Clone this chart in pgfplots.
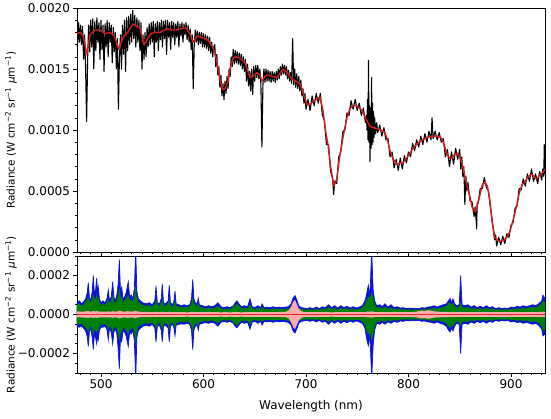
\documentclass[border=0pt]{standalone}
\usepackage{fontspec}
\setmainfont{DejaVu Sans}
\usepackage{pgfplots}
\pgfplotsset{compat=1.18}
\usepackage{pgfplotstable}
\definecolor{specred}{RGB}{214,30,30}
\definecolor{bandblue}{RGB}{10,20,215}
\definecolor{bandgreen}{RGB}{0,128,0}
\definecolor{bandpink}{RGB}{250,170,170}
\definecolor{zeroline}{RGB}{230,40,40}

% radiance, units of 1e-4 W cm^-2 sr^-1 um^-1
\pgfplotstableread{
x y
477 16.8
478 18.8
479 17.2
480 18.6
481 17.0
482 18.5
483 15.8
484 17.8
485 15.0
486 10.7
487 16.0
488 18.6
489 16.4
490 19.0
491 16.8
492 19.1
493 15.0
494 18.9
495 16.5
496 19.2
497 17.2
498 18.8
499 15.8
500 19.0
501 16.6
502 18.6
503 14.8
504 18.7
505 16.8
506 19.0
507 16.0
508 18.8
509 17.2
510 18.6
511 15.5
512 18.4
513 16.4
514 18.0
515 15.0
516 17.5
517 11.7
518 16.0
519 17.8
520 15.0
521 18.6
522 16.2
523 19.0
524 14.8
525 19.2
526 16.5
527 19.3
528 17.0
529 19.5
530 17.2
531 19.8
532 17.5
533 19.4
534 16.8
535 19.2
536 17.2
537 19.0
538 16.5
539 18.8
540 15.0
541 17.8
542 15.8
543 18.0
544 16.0
545 18.4
546 16.8
547 18.7
548 17.0
549 18.8
550 17.2
551 18.9
552 16.0
553 18.7
554 17.2
555 18.9
556 16.5
557 18.8
558 17.4
559 19.0
560 16.8
561 18.9
562 17.5
563 19.0
564 16.2
565 19.0
566 17.6
567 18.8
568 16.6
569 18.9
570 17.6
571 18.8
572 17.0
573 18.7
574 17.6
575 18.9
576 16.8
577 18.7
578 17.7
579 18.8
580 17.2
581 18.7
582 17.8
583 18.8
584 17.4
585 18.6
586 17.2
587 18.3
588 16.6
589 17.8
590 13.4
591 17.0
592 18.2
593 17.2
594 18.1
595 17.0
596 18.0
597 17.1
598 18.0
599 16.8
600 17.9
601 16.8
602 17.8
603 16.7
604 17.7
605 16.5
606 17.6
607 16.3
608 17.2
609 16.0
610 16.8
611 17.0
612 15.2
613 16.2
614 14.5
615 15.2
616 13.5
617 14.5
618 12.8
619 13.8
620 12.5
621 14.0
622 13.0
623 14.4
624 13.4
625 15.0
626 14.4
627 16.0
628 15.2
629 16.6
630 15.4
631 16.5
632 15.5
633 16.4
634 15.4
635 16.3
636 15.3
637 16.2
638 15.0
639 16.0
640 14.8
641 15.8
642 14.0
643 15.4
644 13.6
645 14.8
646 13.2
647 15.0
648 12.9
649 15.2
650 14.0
651 15.3
652 14.3
653 15.3
654 14.2
655 15.0
656 13.8
657 8.6
658 13.7
659 15.0
660 13.9
661 15.0
662 14.0
663 14.9
664 14.0
665 14.8
666 13.9
667 14.8
668 14.0
669 14.7
670 13.9
671 14.8
672 14.1
673 15.0
674 14.2
675 15.2
676 14.5
677 15.4
678 14.6
679 15.3
680 14.5
681 15.2
682 14.2
683 14.9
684 14.0
685 14.7
686 13.8
687 17.5
688 13.7
689 15.0
690 13.5
691 14.6
692 13.4
693 14.4
694 13.2
695 14.1
696 12.8
697 13.4
698 12.2
699 13.0
700 11.7
702 12.5
704 11.6
706 12.8
708 12.0
710 13.0
712 12.2
714 13.0
716 11.2
718 10.8
720 8.8
722 8.8
724 6.6
726 6.0
727 4.7
728 5.8
730 5.6
732 7.8
734 8.2
736 9.9
738 10.0
740 11.4
742 11.2
744 12.4
746 11.7
748 12.5
750 11.6
752 12.2
754 11.2
756 11.8
758 10.6
759 11.2
759.5 10.0
760 12.5
760.5 9.2
761 15.7
761.5 9.0
762 12.0
762.4 7.4
763 11.8
763.5 8.5
764 14.3
764.5 8.8
765 12.2
765.5 9.0
766 11.5
766.5 9.4
767 11.0
768 9.7
769 10.6
770 9.8
772 10.4
774 9.5
776 10.2
778 9.2
780 9.3
782 7.8
784 8.2
786 6.9
788 7.6
790 6.7
792 7.7
794 6.8
796 7.9
798 7.3
800 8.2
802 7.8
804 8.9
806 8.3
808 9.2
810 8.6
812 9.5
814 8.8
816 9.7
818 9.0
820 9.9
822 9.2
823 11.0
824 9.3
826 9.9
828 9.2
830 9.8
832 9.0
834 9.3
836 7.8
838 8.4
840 7.0
842 8.2
844 7.2
846 8.5
848 7.6
850 8.4
851 6.8
852 7.8
853 6.2
854 7.0
855 3.9
856 6.2
857 5.0
858 5.7
860 4.2
862 4.1
864 2.9
865 3.7
866 2.6
866.5 1.9
867 4.0
868 4.0
870 5.2
872 5.2
874 6.1
876 5.3
878 5.0
880 3.6
882 2.4
884 1.0
885 1.4
886 0.5
888 1.2
890 0.6
892 1.3
894 0.7
896 1.5
898 1.2
900 2.2
902 2.4
904 3.6
906 3.8
908 5.2
910 5.1
912 6.0
914 5.4
916 6.4
918 5.8
920 6.8
922 5.8
924 6.4
926 5.6
928 6.6
930 5.9
931 6.8
932 6.2
932.5 8.8
933 6.4
}\obsdata

\pgfplotstableread{
x y
476.6 17.9
480 18.0
483 17.6
486.3 16.2
489.3 17.8
494 18.2
499 18.2
504 17.9
508.8 18.0
513 17.7
517.6 16.6
521.5 17.6
526 18.0
531.2 18.7
535 18.5
538 18.4
542 17.0
547.8 17.8
552 18.0
557.6 18.0
564.4 18.3
569 18.2
574.1 18.2
578 18.3
582 18.4
586.8 17.9
589.8 17.2
593.7 17.7
598 17.6
603.4 17.4
606 17.2
609.3 16.8
612 16.0
614.1 15.1
617 13.8
619 13.3
621 13.4
623.9 14.0
626 15.0
628.8 15.9
632 16.0
635.6 15.9
640.5 15.5
643 14.9
645.4 14.3
648 14.4
652.2 14.7
655 14.5
657.1 14.0
660 14.4
662 14.5
667 14.4
671.7 14.3
675 14.7
677.6 15.0
681 14.8
684 14.4
686.3 14.2
690 14.0
694.1 13.8
698 12.8
701 12.1
703.9 12.1
708 12.4
713.7 12.7
716.6 11.6
719 10.0
721.5 8.8
724 7.0
727.3 5.4
730 6.0
733.2 8.0
737 9.8
740 11.0
743 11.8
745.9 12.0
749 12.0
752 11.8
754.6 11.6
758 11.0
762.4 10.3
766 10.2
769.3 10.1
773 10.0
777.1 9.8
780 9.0
782 8.3
785 7.6
788.8 7.2
792 7.3
794.6 7.3
799 7.8
804.4 8.5
809 8.9
814.1 9.2
818 9.4
823.9 9.5
828 9.5
832.7 9.3
835 8.7
837.6 8.0
840 7.7
842.4 7.7
845 8.0
848.3 8.1
851 7.6
853.2 6.9
856 5.8
860 4.5
862 3.7
864.9 3.3
867 3.8
869.8 4.7
872 5.5
874.6 5.7
877 5.4
879.5 4.2
882 2.2
884.4 1.2
888 0.9
892.2 0.9
896 1.2
899 1.7
902 2.6
905.9 3.9
908 4.8
910.7 5.5
914 5.8
917 6.2
920.5 6.4
923 6.1
925.4 6.0
928 6.3
931 6.5
933.2 6.8
}\modeldata

% residual bands, units of 1e-4
\pgfplotstableread{
x bu bl gu gl pu pl
476.6 0.6 -0.6 0.47 -0.47 0.15 -0.15
479 0.7 -0.65 0.55 -0.5 0.16 -0.15
481 0.55 -0.6 0.43 -0.47 0.14 -0.14
483 0.65 -0.7 0.5 -0.55 0.15 -0.16
485 0.8 -0.85 0.62 -0.66 0.16 -0.16
486.5 1.1 -1.1 0.75 -0.75 0.17 -0.17
487.6 1.63 -1.63 0.9 -0.9 0.18 -0.18
488.7 0.9 -0.9 0.7 -0.7 0.16 -0.16
490 0.7 -0.7 0.55 -0.55 0.15 -0.15
491.5 1.2 -1.2 0.8 -0.8 0.16 -0.16
492.5 2.0 -1.8 1.0 -1.0 0.18 -0.18
493.6 1.0 -1.0 0.72 -0.72 0.16 -0.16
494.8 1.3 -1.2 0.8 -0.8 0.16 -0.16
495.8 1.86 -1.5 1.0 -0.9 0.18 -0.18
496.7 1.1 -1.1 0.75 -0.75 0.16 -0.16
497.4 1.4 -1.3 0.85 -0.8 0.16 -0.16
498.5 0.8 -0.8 0.62 -0.62 0.15 -0.15
500 0.6 -0.65 0.47 -0.5 0.15 -0.15
502 0.7 -0.65 0.55 -0.5 0.15 -0.15
504 0.6 -0.6 0.47 -0.47 0.14 -0.14
506 0.85 -0.8 0.65 -0.62 0.15 -0.15
507.1 1.26 -1.3 0.8 -0.8 0.16 -0.16
508.3 0.7 -0.7 0.55 -0.55 0.15 -0.15
510 0.9 -0.9 0.68 -0.68 0.15 -0.15
511.4 1.68 -1.5 0.95 -0.9 0.17 -0.17
512.6 0.9 -0.9 0.68 -0.68 0.15 -0.15
514 0.7 -0.75 0.55 -0.58 0.15 -0.15
515.5 1.0 -1.0 0.72 -0.72 0.16 -0.16
516.8 1.6 -1.8 0.95 -1.0 0.17 -0.17
517.9 2.83 -2.8 1.3 -1.3 0.2 -0.2
519 1.2 -1.2 0.85 -0.85 0.17 -0.17
520.2 1.4 -1.4 0.9 -0.9 0.17 -0.17
521.5 0.8 -0.85 0.62 -0.65 0.15 -0.15
523 0.9 -0.9 0.7 -0.7 0.15 -0.15
524.5 1.1 -1.1 0.8 -0.8 0.16 -0.16
526.6 1.68 -1.63 1.0 -1.0 0.17 -0.17
528 0.9 -0.9 0.7 -0.7 0.15 -0.15
529.5 1.0 -1.0 0.75 -0.75 0.16 -0.16
531 0.8 -0.8 0.62 -0.62 0.15 -0.15
532.5 1.3 -1.3 0.9 -0.9 0.17 -0.17
533.9 3.3 -3.3 1.4 -1.4 0.2 -0.2
535 1.2 -1.2 0.85 -0.85 0.16 -0.16
536.5 0.8 -0.8 0.62 -0.62 0.15 -0.15
538.5 0.7 -0.7 0.55 -0.55 0.14 -0.14
541 0.6 -0.6 0.47 -0.47 0.14 -0.14
544 0.55 -0.55 0.43 -0.43 0.13 -0.13
547 0.6 -0.6 0.47 -0.47 0.13 -0.13
550 0.5 -0.5 0.39 -0.39 0.12 -0.12
552.5 0.7 -0.7 0.52 -0.52 0.13 -0.13
553.7 1.46 -1.4 0.75 -0.75 0.14 -0.14
555 0.6 -0.6 0.47 -0.47 0.13 -0.13
557 0.55 -0.55 0.43 -0.43 0.12 -0.12
558.8 0.8 -0.8 0.6 -0.6 0.13 -0.13
559.8 1.57 -1.4 0.75 -0.75 0.14 -0.14
561 0.6 -0.6 0.47 -0.47 0.13 -0.13
563 0.55 -0.55 0.43 -0.43 0.12 -0.12
565.5 0.7 -0.7 0.52 -0.52 0.13 -0.13
566.6 1.5 -1.4 0.75 -0.75 0.14 -0.14
567.8 0.6 -0.6 0.47 -0.47 0.13 -0.13
570 0.5 -0.5 0.39 -0.39 0.12 -0.12
571.2 0.7 -0.7 0.52 -0.52 0.13 -0.13
572.2 1.2 -1.1 0.68 -0.68 0.13 -0.13
573.3 0.55 -0.55 0.43 -0.43 0.12 -0.12
576 0.5 -0.5 0.39 -0.39 0.12 -0.12
578.5 0.45 -0.48 0.35 -0.37 0.12 -0.12
581 0.5 -0.5 0.39 -0.39 0.12 -0.12
584 0.45 -0.45 0.35 -0.35 0.11 -0.11
586.5 0.5 -0.5 0.39 -0.39 0.12 -0.12
588.3 0.8 -0.8 0.58 -0.58 0.13 -0.13
589.5 1.8 -1.8 0.85 -0.85 0.14 -0.14
590.7 0.8 -0.8 0.58 -0.58 0.13 -0.13
592.5 0.55 -0.55 0.43 -0.43 0.12 -0.12
594 0.6 -0.6 0.45 -0.45 0.12 -0.12
594.9 0.83 -0.8 0.58 -0.58 0.13 -0.13
596 0.5 -0.5 0.39 -0.39 0.12 -0.12
599 0.45 -0.45 0.35 -0.35 0.12 -0.12
602 0.4 -0.42 0.3 -0.32 0.12 -0.12
605 0.45 -0.45 0.34 -0.34 0.12 -0.12
608 0.4 -0.4 0.3 -0.3 0.12 -0.12
611 0.45 -0.45 0.34 -0.34 0.12 -0.12
614.1 0.6 -0.6 0.44 -0.44 0.12 -0.12
617 0.4 -0.4 0.3 -0.3 0.11 -0.11
620 0.35 -0.35 0.27 -0.27 0.12 -0.12
623 0.4 -0.4 0.3 -0.3 0.12 -0.12
626 0.35 -0.35 0.27 -0.27 0.11 -0.11
629 0.45 -0.45 0.38 -0.38 0.12 -0.12
631 0.6 -0.6 0.48 -0.48 0.13 -0.13
632.7 0.7 -0.68 0.55 -0.55 0.13 -0.13
634.5 0.55 -0.55 0.44 -0.44 0.12 -0.12
637 0.4 -0.4 0.3 -0.3 0.11 -0.11
640 0.45 -0.45 0.33 -0.33 0.12 -0.12
643 0.4 -0.4 0.3 -0.3 0.12 -0.12
645.4 0.8 -0.75 0.5 -0.5 0.13 -0.13
647.5 0.4 -0.4 0.3 -0.3 0.12 -0.12
650 0.35 -0.35 0.27 -0.27 0.12 -0.12
653 0.45 -0.45 0.33 -0.33 0.12 -0.12
656 0.35 -0.35 0.27 -0.27 0.12 -0.12
657.2 0.55 -0.55 0.38 -0.38 0.12 -0.12
659 0.35 -0.35 0.27 -0.27 0.12 -0.12
662 0.38 -0.38 0.28 -0.28 0.12 -0.12
665 0.35 -0.35 0.27 -0.27 0.12 -0.12
668 0.4 -0.4 0.3 -0.3 0.12 -0.12
671 0.35 -0.35 0.27 -0.27 0.12 -0.12
674 0.38 -0.38 0.28 -0.28 0.13 -0.13
677 0.35 -0.35 0.27 -0.27 0.13 -0.13
680 0.38 -0.38 0.28 -0.28 0.14 -0.14
683 0.4 -0.4 0.3 -0.3 0.2 -0.2
685.5 0.55 -0.55 0.35 -0.35 0.4 -0.4
687.5 0.85 -0.85 0.4 -0.4 0.65 -0.65
689.3 0.97 -0.95 0.4 -0.4 0.75 -0.75
691 0.75 -0.75 0.35 -0.35 0.55 -0.55
693 0.45 -0.45 0.3 -0.3 0.3 -0.3
695.5 0.35 -0.35 0.27 -0.27 0.18 -0.18
698 0.33 -0.33 0.25 -0.25 0.13 -0.13
701 0.3 -0.3 0.23 -0.23 0.12 -0.12
704 0.35 -0.35 0.26 -0.26 0.12 -0.12
707 0.3 -0.3 0.23 -0.23 0.12 -0.12
710 0.38 -0.38 0.28 -0.28 0.12 -0.12
713 0.3 -0.3 0.23 -0.23 0.12 -0.12
716 0.4 -0.4 0.3 -0.3 0.12 -0.12
719 0.35 -0.35 0.27 -0.27 0.12 -0.12
722 0.5 -0.5 0.36 -0.36 0.12 -0.12
725 0.35 -0.35 0.27 -0.27 0.11 -0.11
728 0.45 -0.45 0.33 -0.33 0.12 -0.12
731 0.33 -0.33 0.25 -0.25 0.12 -0.12
734 0.45 -0.45 0.33 -0.33 0.12 -0.12
737 0.35 -0.35 0.27 -0.27 0.12 -0.12
740 0.42 -0.42 0.31 -0.31 0.12 -0.12
743 0.33 -0.33 0.25 -0.25 0.12 -0.12
746 0.4 -0.4 0.3 -0.3 0.12 -0.12
749 0.33 -0.33 0.25 -0.25 0.12 -0.12
752 0.38 -0.38 0.28 -0.28 0.12 -0.12
755 0.45 -0.45 0.34 -0.34 0.12 -0.12
757.5 0.7 -0.7 0.52 -0.52 0.13 -0.13
759 1.0 -1.2 0.7 -0.8 0.14 -0.14
760.8 1.5 -1.6 0.9 -1.0 0.15 -0.15
762.4 1.0 -1.1 0.85 -0.95 0.15 -0.15
764.1 3.3 -3.3 1.1 -1.3 0.16 -0.16
765.5 1.3 -1.6 0.85 -0.95 0.15 -0.15
767 0.7 -0.8 0.52 -0.6 0.13 -0.13
769 0.45 -0.45 0.34 -0.34 0.12 -0.12
772 0.5 -0.5 0.36 -0.36 0.12 -0.12
774.5 0.4 -0.4 0.3 -0.3 0.12 -0.12
777 0.55 -0.5 0.38 -0.38 0.12 -0.12
780 0.38 -0.38 0.28 -0.28 0.12 -0.12
783 0.5 -0.45 0.34 -0.34 0.12 -0.12
786 0.35 -0.35 0.27 -0.27 0.12 -0.12
789 0.4 -0.4 0.3 -0.3 0.12 -0.12
792 0.33 -0.33 0.25 -0.25 0.12 -0.12
795 0.35 -0.35 0.26 -0.26 0.12 -0.12
798 0.3 -0.3 0.23 -0.23 0.12 -0.12
801 0.33 -0.33 0.25 -0.25 0.12 -0.12
804 0.3 -0.3 0.23 -0.23 0.13 -0.13
807 0.32 -0.32 0.24 -0.24 0.14 -0.14
810 0.3 -0.3 0.23 -0.23 0.17 -0.17
813 0.35 -0.35 0.26 -0.26 0.2 -0.2
816 0.33 -0.33 0.25 -0.25 0.18 -0.18
819 0.38 -0.38 0.28 -0.28 0.22 -0.22
822 0.4 -0.4 0.3 -0.3 0.2 -0.2
825 0.45 -0.45 0.33 -0.33 0.16 -0.16
828 0.38 -0.38 0.28 -0.28 0.15 -0.15
831 0.45 -0.45 0.34 -0.34 0.14 -0.14
834 0.5 -0.5 0.37 -0.37 0.13 -0.13
837 0.55 -0.6 0.42 -0.45 0.14 -0.14
839 0.7 -0.8 0.55 -0.6 0.14 -0.14
840.5 0.83 -0.9 0.62 -0.68 0.14 -0.14
842 0.6 -0.7 0.47 -0.53 0.13 -0.13
843.4 0.8 -0.85 0.6 -0.63 0.13 -0.13
845 0.55 -0.6 0.42 -0.45 0.13 -0.13
847 0.45 -0.45 0.34 -0.34 0.12 -0.12
849.5 0.5 -0.5 0.37 -0.37 0.12 -0.12
850.9 2.0 -2.0 0.6 -0.6 0.13 -0.13
852.3 0.5 -0.5 0.37 -0.37 0.12 -0.12
855 0.45 -0.45 0.34 -0.34 0.12 -0.12
858 0.5 -0.5 0.37 -0.37 0.12 -0.12
861 0.38 -0.38 0.28 -0.28 0.12 -0.12
864 0.45 -0.45 0.33 -0.33 0.12 -0.12
867 0.35 -0.35 0.27 -0.27 0.12 -0.12
870 0.42 -0.42 0.31 -0.31 0.12 -0.12
873 0.35 -0.35 0.27 -0.27 0.12 -0.12
876 0.45 -0.45 0.33 -0.33 0.12 -0.12
879 0.35 -0.35 0.27 -0.27 0.12 -0.12
882 0.4 -0.4 0.3 -0.3 0.12 -0.12
885 0.3 -0.3 0.23 -0.23 0.12 -0.12
888 0.35 -0.35 0.26 -0.26 0.12 -0.12
891 0.3 -0.3 0.23 -0.23 0.12 -0.12
894 0.33 -0.33 0.25 -0.25 0.12 -0.12
897 0.3 -0.3 0.23 -0.23 0.12 -0.12
900 0.38 -0.38 0.28 -0.28 0.12 -0.12
903 0.35 -0.35 0.27 -0.27 0.12 -0.12
906 0.42 -0.42 0.31 -0.31 0.12 -0.12
909 0.38 -0.38 0.28 -0.28 0.12 -0.12
912 0.45 -0.45 0.34 -0.34 0.12 -0.12
915 0.4 -0.4 0.3 -0.3 0.12 -0.12
918 0.45 -0.45 0.35 -0.35 0.12 -0.12
921 0.5 -0.5 0.38 -0.38 0.13 -0.13
924 0.45 -0.45 0.35 -0.35 0.12 -0.12
927 0.55 -0.55 0.42 -0.42 0.13 -0.13
930 0.7 -0.75 0.55 -0.6 0.13 -0.13
931.2 1.0 -1.1 0.7 -0.8 0.14 -0.14
933.2 0.8 -1.0 0.6 -0.75 0.14 -0.14
}\resid

\pgfplotsset{
  common/.style={
    scale only axis, width=468pt,
    xmin=476.6, xmax=933.2,
    xtick={500,600,700,800,900},
    minor xtick={480,490,...,930},
    tick align=outside, tick pos=left,
    major tick length=3.5pt, minor tick length=2pt,
    tick style={black, line width=0.6pt},
    axis line style={line width=0.7pt},
    tick label style={font=\fontsize{12}{14}\selectfont},
    /pgf/number format/assume math mode=true,
    every axis y label/.style={at={(axis description cs:-0.141,0.5)}, rotate=90, anchor=center,
      font=\fontsize{10.5}{12}\selectfont},
  }
}

\begin{document}
\begin{tikzpicture}
\path[use as bounding box] (-77pt,-410pt) rectangle (474pt,8pt);
\begin{axis}[common, at={(0pt,0pt)}, anchor=north west, height=244pt,
  ymin=0, ymax=20, ytick={0,5,10,15,20},
  yticklabels={0.0000,0.0005,0.0010,0.0015,0.0020},
  minor ytick={0,1,...,20}, xticklabels={},
  ylabel={Radiance (W cm\textsuperscript{−2} sr\textsuperscript{−1} \textit{μ}m\textsuperscript{−1})}]
\addplot[black, line width=1.1pt, line join=round] table[x=x,y=y]{\obsdata};
\addplot[specred, line width=1.4pt, line join=round] table[x=x,y=y]{\modeldata};
\end{axis}
\begin{axis}[common, at={(0pt,-248pt)}, anchor=north west, height=117pt,
  ymin=-3, ymax=3, ytick={-2,0,2},
  yticklabels={−0.0002,0.0000,0.0002},
  minor ytick={-3,-2.5,...,3},
  xlabel={Wavelength (nm)},
  xlabel style={font=\fontsize{12}{14}\selectfont, yshift=-4pt},
  ylabel={Radiance (W cm\textsuperscript{−2} sr\textsuperscript{−1} \textit{μ}m\textsuperscript{−1})}]
\addplot[fill=bandblue, draw=bandblue, line width=0.7pt] table[x=x,y=bu]{\resid} \closedcycle;
\addplot[fill=bandblue, draw=bandblue, line width=0.7pt] table[x=x,y=bl]{\resid} \closedcycle;
\addplot[fill=bandgreen, draw=bandgreen, line width=0.3pt] table[x=x,y=gu]{\resid} \closedcycle;
\addplot[fill=bandgreen, draw=bandgreen, line width=0.3pt] table[x=x,y=gl]{\resid} \closedcycle;
\addplot[fill=bandpink, draw=none] table[x=x,y=pu]{\resid} \closedcycle;
\addplot[fill=bandpink, draw=none] table[x=x,y=pl]{\resid} \closedcycle;
\addplot[zeroline, line width=1.2pt] coordinates {(476.6,0) (933.2,0)};
\end{axis}
\end{tikzpicture}
\end{document}
